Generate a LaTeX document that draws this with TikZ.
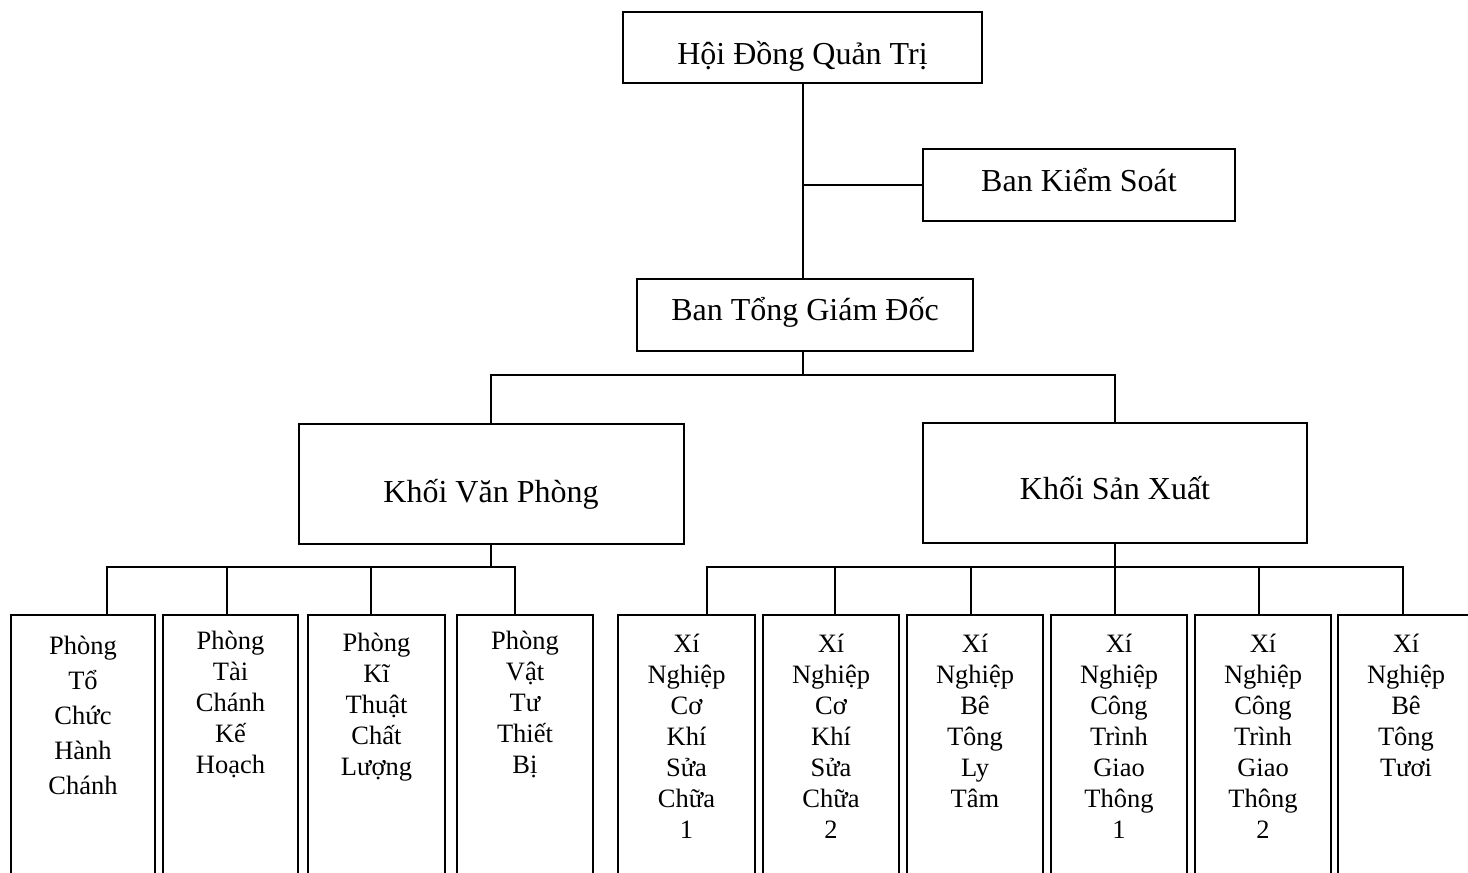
\documentclass[tikz,border=0pt]{standalone}
\usepackage{fontspec}
\setmainfont{Liberation Serif}
\usetikzlibrary{positioning, calc}

\begin{document}
\begin{tikzpicture}[
        x=1pt, y=-1pt,
        box/.style={rectangle, draw=black, line width=2pt, text depth=6.4pt, font=\fontsize{32}{38}\selectfont},
        unit/.style={rectangle, draw=black, line width=2pt, anchor=north, minimum height=320},
        utext/.style={anchor=north, align=center, inner sep=0pt, font=\fontsize{26.5}{31}\selectfont},
        link/.style={line width=2pt}
    ]
        \clip (0,0) rectangle (1468,873);

        % upper levels
        \node[box, minimum width=359, minimum height=71, text height=39.4pt] (hdqt) at (802.5,47.5) {Hội Đồng Quản Trị};
        \node[box, minimum width=312, minimum height=72, text height=18.4pt] (bks) at (1079,185) {Ban Kiểm Soát};
        \node[box, minimum width=336, minimum height=72, text height=16.4pt] (btgd) at (805,315) {Ban Tổng Giám Đốc};
        \node[box, minimum width=385, minimum height=120, text height=42.4pt] (kvp) at (491,484) {Khối Văn Phòng};
        \node[box, minimum width=384, minimum height=120, text height=38.4pt] (ksx) at (1115,483) {Khối Sản Xuất};

        % office departments
        \node[unit, minimum width=144] (p1) at (83,614) {};
        \node[unit, minimum width=135] (p2) at (230.5,614) {};
        \node[unit, minimum width=137] (p3) at (376.5,614) {};
        \node[unit, minimum width=136] (p4) at (525,614) {};
        \node[utext, font=\fontsize{26.5}{35}\selectfont, below=21.5pt of p1.north] (t1) {Phòng\\Tổ\\Chức\\Hành\\Chánh};
        \node[utext, below=17pt of p2.north] (t2) {Phòng\\Tài\\Chánh\\Kế\\Hoạch};
        \node[utext, below=19pt of p3.north] (t3) {Phòng\\Kĩ\\Thuật\\Chất\\Lượng};
        \node[utext, below=17pt of p4.north] (t4) {Phòng\\Vật\\Tư\\Thiết\\Bị};

        % production units
        \node[unit, minimum width=137] (x1) at (686.5,614) {};
        \node[unit, minimum width=136] (x2) at (831,614) {};
        \node[unit, minimum width=136] (x3) at (975,614) {};
        \node[unit, minimum width=136] (x4) at (1119,614) {};
        \node[unit, minimum width=136] (x5) at (1263,614) {};
        \node[unit, minimum width=136] (x6) at (1406,614) {};
        \node[utext, below=20pt of x1.north] (s1) {Xí\\Nghiệp\\Cơ\\Khí\\Sửa\\Chữa\\1};
        \node[utext, below=20pt of x2.north] (s2) {Xí\\Nghiệp\\Cơ\\Khí\\Sửa\\Chữa\\2};
        \node[utext, below=20pt of x3.north] (s3) {Xí\\Nghiệp\\Bê\\Tông\\Ly\\Tâm};
        \node[utext, below=20pt of x4.north] (s4) {Xí\\Nghiệp\\Công\\Trình\\Giao\\Thông\\1};
        \node[utext, below=20pt of x5.north] (s5) {Xí\\Nghiệp\\Công\\Trình\\Giao\\Thông\\2};
        \node[utext, below=20pt of x6.north] (s6) {Xí\\Nghiệp\\Bê\\Tông\\Tươi};

        % connectors
        \coordinate (j1) at (803,375);
        \coordinate (j2) at (491,567);
        \coordinate (j3) at (1115,567);
        \draw[link] (hdqt.south) -- (hdqt.south |- btgd.north);
        \draw[link] (hdqt.south |- bks.west) -- (bks.west);
        \draw[link] (btgd.south -| j1) -- (j1);
        \draw[link] (kvp.north) |- (j1) -| (ksx.north);
        \draw[link] (kvp.south) -- (j2);
        \draw[link] (ksx.south) -- (j3);
        \draw[link] ([xshift=24pt]p1.north) |- ([xshift=-10pt]p4.north |- j2) -- ([xshift=-10pt]p4.north);
        \draw[link] ([xshift=20.5pt]x1.north) |- ([xshift=-3pt]x6.north |- j3) -- ([xshift=-3pt]x6.north);
        \foreach \n/\dx/\j in {p2/-3.5/j2, p3/-5.5/j2, x2/4/j3, x3/-4/j3, x4/-4/j3, x5/-4/j3}
            \draw[link] ([xshift=\dx pt]\n.north) -- ([xshift=\dx pt]\n.north |- \j);
    \end{tikzpicture}
\end{document}
